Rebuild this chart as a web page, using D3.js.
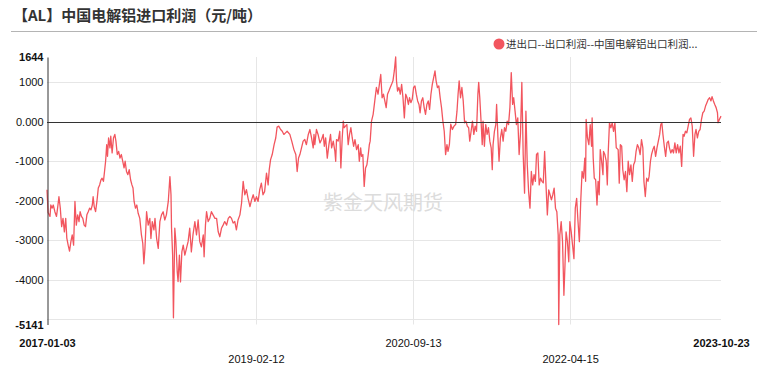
<!DOCTYPE html>
<html><head><meta charset="utf-8">
<script src="https://cdn.jsdelivr.net/npm/d3@7"></script>
<style>body{margin:0;background:#fff;} svg{display:block;}</style>
</head><body><svg id="c" width="767" height="371"></svg>
<script>
const titleText = "【AL】中国电解铝进口利润（元/吨）";
const seriesName = "进出口--出口利润--中国电解铝出口利润...";
const watermarkText = "紫金天风期货";

const dates = [
"2017-01-03","2017-01-07","2017-01-14","2017-01-17","2017-01-22","2017-01-26","2017-02-01","2017-02-07","2017-02-11","2017-02-16","2017-02-21","2017-02-26",
"2017-03-03","2017-03-08","2017-03-13","2017-03-17","2017-03-22","2017-03-27","2017-04-01","2017-04-06","2017-04-11","2017-04-16","2017-04-21","2017-04-26",
"2017-05-01","2017-05-05","2017-05-10","2017-05-15","2017-05-20","2017-05-25","2017-05-30","2017-06-04","2017-06-09","2017-06-14","2017-06-19","2017-06-22","2017-06-26",
"2017-07-01","2017-07-06","2017-07-11","2017-07-16","2017-07-21","2017-07-25","2017-07-30","2017-08-03","2017-08-07","2017-08-11","2017-08-14","2017-08-18","2017-08-23","2017-08-26","2017-08-31",
"2017-09-05","2017-09-10","2017-09-14","2017-09-19","2017-09-24","2017-09-29","2017-10-04","2017-10-09","2017-10-14","2017-10-18","2017-10-23","2017-10-28",
"2017-11-02","2017-11-07","2017-11-12","2017-11-16","2017-11-20","2017-11-25","2017-11-30","2017-12-05","2017-12-11","2017-12-17","2017-12-22","2017-12-26","2017-12-30",
"2018-01-05","2018-01-11","2018-01-17","2018-01-21","2018-01-26","2018-02-01","2018-02-05","2018-02-11","2018-02-17","2018-02-23","2018-03-01","2018-03-07","2018-03-13","2018-03-19","2018-03-26",
"2018-04-01","2018-04-05","2018-04-07","2018-04-11","2018-04-14","2018-04-19","2018-04-23","2018-04-28","2018-05-01","2018-05-06","2018-05-10","2018-05-15","2018-05-20","2018-05-26",
"2018-06-01","2018-06-07","2018-06-13","2018-06-19","2018-06-25","2018-07-02","2018-07-08","2018-07-14","2018-07-20","2018-07-26","2018-08-02","2018-08-05","2018-08-10","2018-08-14","2018-08-20","2018-08-26",
"2018-09-01","2018-09-07","2018-09-14","2018-09-20","2018-09-26","2018-10-02","2018-10-08","2018-10-14","2018-10-20","2018-10-27","2018-11-02","2018-11-08","2018-11-14","2018-11-20","2018-11-26",
"2018-12-02","2018-12-08","2018-12-15","2018-12-21","2018-12-27",
"2019-01-02","2019-01-08","2019-01-14","2019-01-21","2019-01-27","2019-02-02","2019-02-08","2019-02-14","2019-02-20","2019-02-26","2019-03-04","2019-03-10","2019-03-16","2019-03-23","2019-03-29",
"2019-04-02","2019-04-07","2019-04-13","2019-04-20","2019-04-26","2019-05-01","2019-05-07","2019-05-14","2019-05-20","2019-05-26","2019-06-01","2019-06-07","2019-06-17","2019-06-24",
"2019-07-02","2019-07-09","2019-07-14","2019-07-19","2019-07-24","2019-07-30","2019-08-05","2019-08-11","2019-08-17","2019-08-24","2019-08-30","2019-09-05","2019-09-11","2019-09-14","2019-09-17","2019-09-23","2019-09-29",
"2019-10-06","2019-10-12","2019-10-18","2019-10-22","2019-10-27","2019-11-02","2019-11-08","2019-11-14","2019-11-18","2019-11-24","2019-11-30","2019-12-03","2019-12-06","2019-12-12","2019-12-18","2019-12-22","2019-12-27","2019-12-31",
"2020-01-03","2020-01-08","2020-01-13","2020-01-18","2020-01-23","2020-01-28","2020-02-02","2020-02-07","2020-02-12","2020-02-18","2020-02-24","2020-02-28","2020-03-04","2020-03-07","2020-03-12","2020-03-17","2020-03-22","2020-03-27",
"2020-04-01","2020-04-05","2020-04-08","2020-04-13","2020-04-19","2020-04-25","2020-05-01","2020-05-07","2020-05-13","2020-05-17","2020-05-22","2020-05-27","2020-06-01","2020-06-06","2020-06-11","2020-06-16","2020-06-21","2020-06-26",
"2020-07-01","2020-07-06","2020-07-11","2020-07-14","2020-07-18","2020-07-23","2020-07-28","2020-08-02","2020-08-07","2020-08-12","2020-08-17","2020-08-22","2020-08-27","2020-08-31","2020-09-05","2020-09-10","2020-09-15","2020-09-20","2020-09-25","2020-09-30",
"2020-10-05","2020-10-09","2020-10-14","2020-10-19","2020-10-24","2020-10-29","2020-11-03","2020-11-08","2020-11-13","2020-11-18","2020-11-23","2020-11-28","2020-12-03","2020-12-07","2020-12-12","2020-12-17","2020-12-22","2020-12-27",
"2021-01-01","2021-01-06","2021-01-11","2021-01-16","2021-01-20","2021-01-25","2021-01-30","2021-02-05","2021-02-11","2021-02-17","2021-02-22","2021-02-26","2021-03-02","2021-03-07","2021-03-12","2021-03-17","2021-03-22","2021-03-27",
"2021-04-01","2021-04-06","2021-04-10","2021-04-15","2021-04-20","2021-04-25","2021-04-30","2021-05-05","2021-05-10","2021-05-13","2021-05-17","2021-05-22","2021-05-26","2021-05-29","2021-06-03","2021-06-08","2021-06-13","2021-06-18","2021-06-23","2021-06-28",
"2021-07-02","2021-07-05","2021-07-10","2021-07-15","2021-07-18","2021-07-23","2021-07-27","2021-08-01","2021-08-06","2021-08-11","2021-08-16","2021-08-21","2021-08-26","2021-08-31","2021-09-05","2021-09-10","2021-09-15","2021-09-19","2021-09-24","2021-09-29",
"2021-10-04","2021-10-09","2021-10-14","2021-10-19","2021-10-24","2021-10-29","2021-11-03","2021-11-08","2021-11-13","2021-11-18","2021-11-23","2021-11-28","2021-12-03","2021-12-08","2021-12-12","2021-12-17","2021-12-22","2021-12-27",
"2022-01-01","2022-01-06","2022-01-11","2022-01-16","2022-01-21","2022-01-26","2022-01-31","2022-02-05","2022-02-10","2022-02-15","2022-02-20","2022-02-25","2022-03-02","2022-03-04","2022-03-08","2022-03-13","2022-03-18","2022-03-23","2022-03-27","2022-03-31",
"2022-04-05","2022-04-10","2022-04-14","2022-04-19","2022-04-24","2022-04-29","2022-05-04","2022-05-09","2022-05-14","2022-05-19","2022-05-24","2022-05-29","2022-06-03","2022-06-08","2022-06-11","2022-06-13","2022-06-18","2022-06-23","2022-06-28",
"2022-07-03","2022-07-05","2022-07-09","2022-07-13","2022-07-18","2022-07-23","2022-07-27","2022-07-31","2022-08-04","2022-08-09","2022-08-14","2022-08-16","2022-08-21","2022-08-26","2022-08-30","2022-09-02","2022-09-07","2022-09-12","2022-09-17","2022-09-22","2022-09-27",
"2022-10-02","2022-10-09","2022-10-13","2022-10-17","2022-10-22","2022-10-26","2022-10-31","2022-11-05","2022-11-10","2022-11-15","2022-11-20","2022-11-25","2022-11-30","2022-12-05","2022-12-10","2022-12-14","2022-12-19","2022-12-24","2022-12-29",
"2023-01-03","2023-01-08","2023-01-12","2023-01-17","2023-01-22","2023-01-27","2023-01-31","2023-02-05","2023-02-09","2023-02-14","2023-02-19","2023-02-24","2023-03-01","2023-03-06","2023-03-11","2023-03-15","2023-03-19","2023-03-23","2023-03-28",
"2023-04-02","2023-04-07","2023-04-12","2023-04-16","2023-04-21","2023-04-26","2023-05-01","2023-05-06","2023-05-11","2023-05-16","2023-05-21","2023-05-26","2023-05-31","2023-06-05","2023-06-09","2023-06-14","2023-06-19","2023-06-24","2023-06-29",
"2023-07-04","2023-07-09","2023-07-14","2023-07-19","2023-07-23","2023-07-28","2023-08-02","2023-08-07","2023-08-12","2023-08-17","2023-08-22","2023-08-27","2023-09-01","2023-09-06","2023-09-11","2023-09-16","2023-09-20","2023-09-25","2023-09-30",
"2023-10-05","2023-10-10","2023-10-12","2023-10-17","2023-10-23"
];

const profit = [
-1725,-2300,-2400,-2110,-2190,-2110,-2280,-2400,-2190,-1900,-2190,-2660,
-2450,-2790,-2450,-2950,-3130,-3280,-3040,-2870,-3130,-2020,-2620,-2360,
-2530,-2280,-2400,-2450,-2620,-2660,-2360,-2280,-2190,-2235,-2110,-1900,-2150,
-2280,-2020,-1680,-1600,-1470,-1430,-1510,-1260,-1000,-580,-875,-410,-660,-365,-790,
-410,-320,-490,-830,-750,-920,-830,-1000,-1170,-1000,-1260,-1340,
-1215,-1470,-1600,-1680,-2020,-2190,-2110,-2320,-2450,-2870,-3080,-3600,-3210,
-2280,-2620,-2450,-2960,-2530,-2740,-2450,-2960,-3210,-2530,-2360,-2280,-2490,-2360,-2020,
-1390,-1850,-2700,-3380,-4970,-2700,-3040,-3810,-4050,-3380,-4060,-3300,-3130,-3380,
-3210,-3040,-2700,-3300,-2870,-2530,-2870,-2490,-3040,-3170,-2870,-3425,-2620,-2280,-2530,-2450,
-2280,-2360,-2450,-2450,-2790,-2915,-2700,-2620,-2530,-2620,-2450,-2400,-2450,-2570,-2530,
-2740,-2490,-2360,-2065,-1510,
-1850,-1720,-1940,-2150,-1980,-1850,-2020,-1900,-2020,-1720,-1555,-1850,-1770,-1300,-1600,
-1215,-960,-830,-580,-410,-135,-110,-195,-240,-320,-280,-240,-320,-490,
-705,-830,-1260,-920,-830,-660,-490,-450,-580,-320,-195,-410,-660,-320,-580,-195,-320,
-535,-450,-320,-620,-410,-920,-580,-320,-660,-490,-750,-1000,-450,-490,-240,-1170,-410,17,
-150,-110,-70,-580,-320,-150,-410,-620,-450,-705,-580,-1000,-660,-875,-830,-1640,-1170,-1090,
-830,-580,-490,17,190,530,870,700,1000,1200,610,700,530,360,700,780,870,950,
1040,1290,1644,1040,780,870,700,950,610,100,700,610,440,610,485,570,870,910,700,530,
440,230,530,610,360,190,440,530,315,700,950,1120,1290,1040,870,910,610,360,
17,-240,-830,-580,-750,-580,-60,-195,-110,-70,270,700,1040,610,870,530,-25,17,
-110,-150,-490,-240,17,-320,-110,-240,700,1000,610,-25,-580,17,-620,-70,-320,-150,-490,-660,
-1215,-580,-240,-70,440,-410,-1000,-410,-195,-490,-150,-240,17,-70,360,1250,440,610,270,-70,
100,-830,-300,1000,-830,-1810,270,-1090,-1770,-2190,-1260,-1600,-1340,-1510,-830,-790,-1600,-1430,
-1510,-1550,-750,-1600,-2360,-1730,-1850,-1980,-1850,-1680,-2190,-2280,-2870,-5141,-2870,-2530,-3040,-4400,-3640,-2790,
-3040,-3550,-2530,-2790,-3130,-3470,-2190,-1940,-2530,-3040,-2020,-1260,-1430,-920,-1510,60,-410,-580,-70,
-620,100,-920,-1430,-1470,-2110,-1510,-1850,-705,-1000,-1340,-750,-830,-1000,-1600,-830,-25,-150,-25,-240,-25,
-660,-705,-1555,-580,-620,-1215,-1470,-1260,-1770,-1000,-1340,-1090,-1510,-1090,-1000,-750,-580,-660,-830,
-450,-660,-1510,-1895,-1430,-1510,-1385,-1000,-830,-705,-620,-875,-660,-490,-320,-70,-25,-320,-620,
-875,-535,-490,-660,-790,-705,-790,-535,-790,-580,-790,-620,-1130,-320,-365,-240,-280,-110,60,
100,-110,-875,-320,-195,-410,-240,-195,60,230,270,400,485,570,610,530,640,530,440,
360,230,-25,60,145
];

const yTickValues = [1644, 1000, 0, -1000, -2000, -3000, -4000, -5141];
const yTickLabels = ["1644", "1000", "0.000", "-1000", "-2000", "-3000", "-4000", "-5141"];
const yGridValues = [1000, -1000, -2000, -3000, -4000, -5000];
const xTickDates = ["2017-01-03", "2019-02-12", "2020-09-13", "2022-04-15", "2023-10-23"];

const parse = d3.timeParse("%Y-%m-%d");
const data = dates.map((d, i) => ({ date: parse(d), v: profit[i] }));

const svg = d3.select("#c");
const W = 767, H = 371;
const M = { left: 47, right: 46, top: 57, bottom: 46.5 };
const lineColor = "#f2555e";

const x = d3.scaleTime()
  .domain([parse(xTickDates[0]), parse(xTickDates[xTickDates.length - 1])])
  .range([M.left, W - M.right]);
const y = d3.scaleLinear()
  .domain([d3.min(yTickValues), d3.max(yTickValues)])
  .range([H - M.bottom, M.top]);

svg.append("rect").attr("width", W).attr("height", H).attr("fill", "#fff");

// title
svg.append("text")
  .attr("x", 13).attr("y", 21)
  .attr("font-family", "'Noto Sans CJK SC', sans-serif")
  .attr("font-weight", "bold").attr("font-size", 15)
  .attr("fill", "#333").text(titleText);
svg.append("line")
  .attr("x1", 11).attr("x2", 757).attr("y1", 31.5).attr("y2", 31.5)
  .attr("stroke", "#b4b4b4").attr("stroke-width", 1);

// legend
svg.append("circle").attr("cx", 499).attr("cy", 44).attr("r", 5.5).attr("fill", lineColor);
svg.append("text").attr("x", 506).attr("y", 48)
  .attr("font-family", "'Noto Sans CJK SC', sans-serif").attr("font-size", 10.5)
  .attr("fill", "#333").text(seriesName);

// horizontal grid
svg.append("g").selectAll("line").data(yGridValues).join("line")
  .attr("x1", M.left).attr("x2", W - M.right)
  .attr("y1", d => Math.round(y(d)) + 0.5).attr("y2", d => Math.round(y(d)) + 0.5)
  .attr("stroke", "#e6e6e6");

// vertical grid
svg.append("g").selectAll("line").data(xTickDates.slice(1, -1)).join("line")
  .attr("x1", d => Math.round(x(parse(d))) + 0.5).attr("x2", d => Math.round(x(parse(d))) + 0.5)
  .attr("y1", M.top).attr("y2", H - M.bottom)
  .attr("stroke", "#e6e6e6");

// watermark
svg.append("text").attr("x", 383).attr("y", 210).attr("text-anchor", "middle")
  .attr("font-family", "'Noto Sans CJK SC', sans-serif").attr("font-size", 20)
  .attr("fill", "#dcdcdc").text(watermarkText);

// line
svg.append("path").datum(data)
  .attr("fill", "none").attr("stroke", lineColor).attr("stroke-width", 1.3)
  .attr("stroke-linejoin", "round")
  .attr("d", d3.line().x(d => x(d.date)).y(d => y(d.v)));

// zero line
svg.append("line")
  .attr("x1", M.left).attr("x2", W - M.right)
  .attr("y1", Math.round(y(0)) + 0.5).attr("y2", Math.round(y(0)) + 0.5)
  .attr("stroke", "#333");

// y axis
const yAxis = svg.append("g").attr("transform", `translate(${M.left + 0.5},0)`)
  .call(d3.axisLeft(y).tickValues(yTickValues).tickSize(0).tickPadding(4)
    .tickFormat((d, i) => yTickLabels[i]));
yAxis.select(".domain").attr("stroke", "#333");
yAxis.selectAll("text")
  .attr("font-family", "'Liberation Sans', Arial, sans-serif").attr("font-size", 11)
  .attr("fill", "#111")
  .attr("font-weight", (d, i) => (i === 0 || i === yTickValues.length - 1) ? "bold" : "normal");

// x axis labels
const xAxis = svg.append("g").attr("transform", `translate(0,${H - M.bottom})`)
  .call(d3.axisBottom(x).tickValues(xTickDates.map(parse)).tickSize(0).tickPadding(0)
    .tickFormat((d, i) => xTickDates[i]));
xAxis.select(".domain").remove();
xAxis.selectAll("text")
  .attr("font-family", "'Liberation Sans', Arial, sans-serif").attr("font-size", 11)
  .attr("fill", "#111")
  .attr("dy", null)
  .attr("y", (d, i) => i % 2 === 0 ? 22 : 38)
  .attr("font-weight", (d, i) => (i === 0 || i === xTickDates.length - 1) ? "bold" : "normal");
</script>
</body></html>
